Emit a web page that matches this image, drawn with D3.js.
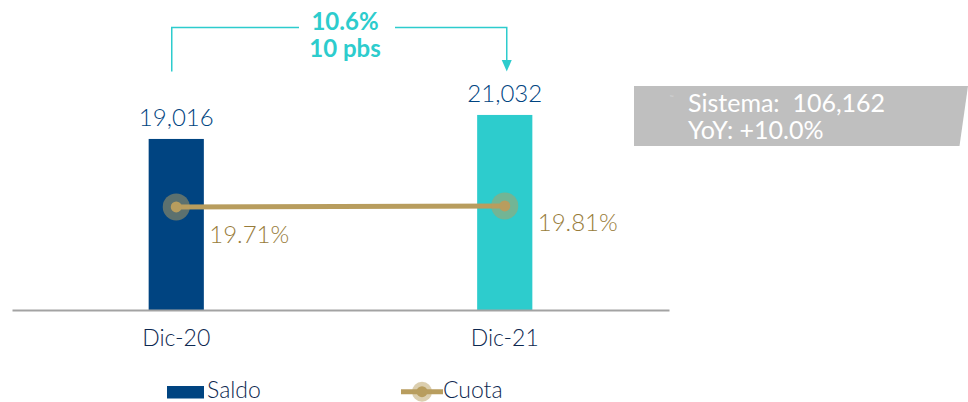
<!DOCTYPE html>
<html>
<head>
<meta charset="utf-8">
<script src="https://cdn.jsdelivr.net/npm/d3@7"></script>
<style>
  body { margin: 0; background: #fff; }
  svg { display: block; font-family: Lato, "Open Sans", sans-serif; font-weight: 300; }
</style>
</head>
<body>
<svg id="chart"></svg>
<script>
// chart data
const categories = ["Dic-20", "Dic-21"];
const saldo = [19016, 21032];
const cuota = [19.71, 19.81];
const growthLabels = ["10.6%", "10 pbs"];
const sistemaLines = ["Sistema:  106,162", "YoY: +10.0%"];
const legendLabels = ["Saldo", "Cuota"];

const width = 968, height = 402;
const navy = "#004481", aqua = "#2dcccd", gold = "#b89d5e";

let svg = d3.select("#chart")
    .attr("width", width)
    .attr("height", height);

// scales
let x = d3.scaleBand()
    .domain(categories)
    .range([12, 669])
    .padding(0);

let y = d3.scaleLinear()
    .domain([4650, 25000])
    .range([310, 67.7]);

let y2 = d3.scaleLinear()
    .domain([9.4, 25])
    .range([310, 154]);

const barW = x.bandwidth() * 0.168;
const cx = d => x(d) + x.bandwidth() / 2;

// bars
svg.selectAll(".bar")
    .data(categories)
    .enter().append("rect")
    .attr("x", d => cx(d) - barW / 2)
    .attr("y", (d, i) => y(saldo[i]))
    .attr("width", barW)
    .attr("height", (d, i) => y(y.domain()[0]) - y(saldo[i]))
    .attr("fill", (d, i) => i === 0 ? navy : aqua);

// bar value labels
svg.selectAll(".barLabel")
    .data(categories)
    .enter().append("text")
    .attr("x", d => cx(d))
    .attr("y", (d, i) => y(saldo[i]) - 13)
    .attr("text-anchor", "middle")
    .style("font-size", "24px")
    .style("fill", "#004481")
    .text((d, i) => d3.format(",")(saldo[i]));

// x axis
let xAxis = svg.append("g")
    .attr("transform", `translate(0,${y(y.domain()[0])})`)
    .call(d3.axisBottom(x).tickSize(0).tickPadding(20));
xAxis.select(".domain").attr("stroke", "#a3a3a3").attr("stroke-width", 2);
xAxis.selectAll("text")
    .style("font-family", "Lato, sans-serif")
    .style("font-weight", "300")
    .style("font-size", "23px")
    .style("fill", "#0d2850");

// cuota line
let line = d3.line()
    .x(d => cx(d.cat))
    .y(d => y2(d.v));
const cuotaPts = categories.map((c, i) => ({cat: c, v: cuota[i]}));

svg.append("path")
    .datum(cuotaPts)
    .attr("d", line)
    .attr("fill", "none")
    .attr("stroke", gold)
    .attr("stroke-width", 5);

svg.selectAll(".halo")
    .data(cuotaPts)
    .enter().append("circle")
    .attr("cx", d => cx(d.cat))
    .attr("cy", d => y2(d.v))
    .attr("r", 13.5)
    .attr("fill", gold)
    .attr("opacity", 0.5);

svg.selectAll(".dot")
    .data(cuotaPts)
    .enter().append("circle")
    .attr("cx", d => cx(d.cat))
    .attr("cy", d => y2(d.v))
    .attr("r", 5.5)
    .attr("fill", gold);

// cuota labels
const cuotaDy = [36, 25];
svg.selectAll(".cuotaLabel")
    .data(cuotaPts)
    .enter().append("text")
    .attr("x", d => cx(d.cat) + 33)
    .attr("y", (d, i) => y2(d.v) + cuotaDy[i])
    .style("font-size", "24px")
    .style("fill", "#987c3a")
    .text(d => d3.format(".2f")(d.v) + "%");

// growth annotation bracket
const x0 = cx(categories[0]) - 4.5, x1 = cx(categories[1]) + 2;
const topY = 27.5;
svg.append("path")
    .attr("d", `M${x0},71.5 V${topY} H299 M395,${topY} H${x1} V62`)
    .attr("fill", "none")
    .attr("stroke", aqua)
    .attr("stroke-width", 1.5);
svg.append("path")
    .attr("d", `M${x1 - 5},60 L${x1 + 5},60 L${x1},71.5 Z`)
    .attr("fill", aqua);

svg.selectAll(".growth")
    .data(growthLabels)
    .enter().append("text")
    .attr("x", 345)
    .attr("y", (d, i) => 30 + i * 27)
    .attr("text-anchor", "middle")
    .style("font-size", "24px")
    .style("font-weight", "bold")
    .style("fill", aqua)
    .text(d => d);

// sistema box
svg.append("path")
    .attr("d", "M634,86 L968,86 L959.5,146 L634,146 Z")
    .attr("fill", "#bfbfbf");
svg.append("text")
    .attr("x", 670)
    .attr("y", 99)
    .style("font-size", "5px")
    .style("fill", "#e6e6e6")
    .text("™");
svg.selectAll(".sistema")
    .data(sistemaLines)
    .enter().append("text")
    .attr("x", 688)
    .attr("y", (d, i) => 111.5 + i * 27.5)
    .attr("xml:space", "preserve")
    .style("white-space", "pre")
    .style("font-size", "25px")
    .style("font-weight", "400")
    .style("fill", "#ffffff")
    .text(d => d);

// legend
let legend = svg.append("g");
legend.append("rect")
    .attr("x", 167).attr("y", 386)
    .attr("width", 37).attr("height", 12.5)
    .attr("fill", navy);
legend.append("line")
    .attr("x1", 401).attr("x2", 443)
    .attr("y1", 391.7).attr("y2", 391.7)
    .attr("stroke", gold).attr("stroke-width", 5);
legend.append("circle")
    .attr("cx", 422).attr("cy", 391.7).attr("r", 10)
    .attr("fill", gold).attr("opacity", 0.5);
legend.append("circle")
    .attr("cx", 422).attr("cy", 391.7).attr("r", 5.5)
    .attr("fill", gold);
legend.selectAll(".legText")
    .data(legendLabels)
    .enter().append("text")
    .attr("x", (d, i) => i === 0 ? 207 : 443)
    .attr("y", 398)
    .style("font-size", "23px")
    .style("fill", "#0d2850")
    .text(d => d);
</script>
</body>
</html>
